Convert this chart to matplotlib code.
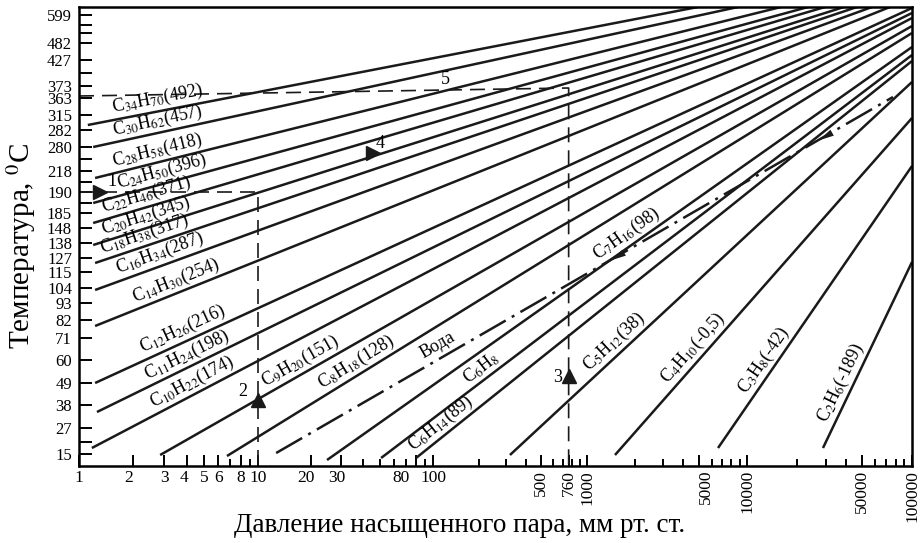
import matplotlib

matplotlib.use("Agg")
import matplotlib.pyplot as plt  # noqa: E402
import numpy as np  # noqa: E402
from matplotlib.markers import MarkerStyle  # noqa: E402
from matplotlib.path import Path  # noqa: E402
from matplotlib.transforms import offset_copy  # noqa: E402

plt.rcParams["font.family"] = ["Liberation Serif", "DejaVu Serif"]
plt.rcParams["mathtext.fontset"] = "stix"

# printed pressure scale: decade marks are not evenly spaced on the nomogram
X_DECADES = [0.1, 1, 10, 100, 1000, 10000, 100000, 1000000]
X_DECADE_POS = [-179, 0, 179, 354, 508, 668, 833, 998]

X_TICKS = [1, 2, 3, 4, 5, 6, 8, 10, 20, 30, 80, 100, 500, 760, 1000, 5000, 10000, 50000, 100000]
X_TICK_LABELS = ["1", "2", "3", "4", "5", "6", "8", "10", "20", "30", "80", "100",
                 "500", "760", "1000", "5000", "10000", "50000", "100000"]

# temperature scale (vertical position of each printed mark, scale units)
Y_TICK_POS = [12, 38, 61, 83, 106, 128, 146, 163, 178, 194, 208, 223, 238, 253,
              274, 295, 319, 336, 351, 368, 380, 406, 423, 451]
Y_TICK_LABELS = ["15", "27", "38", "49", "60", "71", "82", "93", "104", "115", "127", "138",
                 "148", "185", "190", "218", "280", "282", "315", "363", "373", "427", "482", "599"]
Y_MINOR = [24, 263, 284, 307, 393, 433, 441]

# substance lines: (pressure, scale position) at both ends
NAMES = ["C$_{34}$H$_{70}$(492)", "C$_{30}$H$_{62}$(457)", "C$_{28}$H$_{58}$(418)",
         "C$_{24}$H$_{50}$(396)", "C$_{22}$H$_{46}$(371)", "C$_{20}$H$_{42}$(345)",
         "C$_{18}$H$_{38}$(317)", "C$_{16}$H$_{34}$(287)", "C$_{14}$H$_{30}$(254)",
         "C$_{12}$H$_{26}$(216)", "C$_{11}$H$_{24}$(198)", "C$_{10}$H$_{22}$(174)",
         "C$_{9}$H$_{20}$(151)", "C$_{8}$H$_{18}$(128)", "C$_{7}$H$_{16}$(98)",
         "C$_{6}$H$_{8}$", "C$_{6}$H$_{14}$(89)", "C$_{5}$H$_{12}$(38)",
         "C$_{4}$H$_{10}$(-0,5)", "C$_{3}$H$_{8}$(-42)", "C$_{2}$H$_{6}$(-189)"]
P_START = [1.12, 1.20, 1.23, 1.20, 1.20, 1.20, 1.23, 1.23, 1.23, 1.23, 1.26, 1.18,
           2.84, 6.71, 24.8, 50.5, 80.0, 316, 1496, 6590, 28870]
Y_START = [341, 319, 288, 263, 243, 221, 203, 176, 140, 83, 54, 18,
           11, 10, 6, 8, 8, 11, 11, 18, 18]
P_END = [4940, 8790, 16070, 23440, 29700, 38700, 46400, 57250, 73560, 100000, 100000, 100000,
         100000, 100000, 100000, 100000, 100000, 100000, 100000, 100000, 100000]
Y_END = [459, 459, 459, 459, 459, 459, 459, 459, 459, 458, 453, 448,
         440, 433, 419, 411, 405, 384, 348, 300, 204]

WATER_P = [12.7, 76700]
WATER_Y = [13, 369]
WATER_ARROW_P = [1540, 29700]
WATER_ARROW_Y = [210, 330]

# label placement along each line (pressure at label centre)
LABEL_AT = [2.84, 2.84, 2.84, 3.02, 2.49, 2.49, 2.43, 2.98, 3.67, 4.06, 4.28, 4.62,
            18.8, 39.3, 1939, 227, 125, 1655, 5236, 14570, 43300]
# small horizontal nudges (pixels) of tick labels, as printed
X_LABEL_NUDGE = {"2": -4, "4": -3, "20": -5, "30": -5, "80": -15, "5000": 7}


def fwd(p):
    return np.interp(np.log10(np.clip(p, 1e-6, None)), np.log10(X_DECADES), X_DECADE_POS)


def inv(s):
    return 10 ** np.interp(s, X_DECADE_POS, np.log10(X_DECADES))


fig = plt.figure(figsize=(9.21, 5.43), dpi=100)
ax = fig.add_axes([79 / 921, 77 / 543, 833 / 921, 459 / 543])
ax.set_xscale("function", functions=(fwd, inv))
ax.set_xlim(1, 100000)
ax.set_ylim(0, 459)

for s in ax.spines.values():
    s.set_linewidth(1.8)

ax.set_xticks(X_TICKS)
ax.set_xticklabels([])
minor_x = [m * 10 ** d for d in range(5) for m in range(2, 10)]
ax.set_xticks(minor_x, minor=True)
ax.tick_params(axis="x", which="major", direction="in", length=8, width=1.4)
ax.tick_params(axis="x", which="minor", direction="in", length=5, width=1.4)
for val, lab in zip(X_TICKS, X_TICK_LABELS):
    tr = offset_copy(ax.get_xaxis_transform(), fig=fig, x=X_LABEL_NUDGE.get(lab, 0), y=-4,
                     units="dots")
    ax.text(val, 0, lab, transform=tr, ha="center", va="top", fontsize=12.5,
            rotation=90 if val >= 500 else 0)

ax.set_yticks(Y_TICK_POS)
ax.set_yticklabels(Y_TICK_LABELS, fontsize=12)
ax.set_yticks(Y_MINOR, minor=True)
ax.tick_params(axis="y", which="both", direction="in", length=9, width=1.4, pad=5)

fig.text(460 / 921, 1 - 526 / 543, "Давление насыщенного пара, мм рт. ст.", fontsize=19.5,
         ha="center", va="center")
fig.text(21 / 921, 1 - 246 / 543, "Температура, $^0$C", fontsize=21, rotation=90,
         ha="center", va="center")


def display_angle(p0, y0, p1, y1):
    d0 = ax.transData.transform((p0, y0))
    d1 = ax.transData.transform((p1, y1))
    return np.arctan2(d1[1] - d0[1], d1[0] - d0[0])


for p0, y0, p1, y1 in zip(P_START, Y_START, P_END, Y_END):
    ax.plot([p0, p1], [y0, y1], color="#1a1a1a", lw=1.8, solid_capstyle="butt")

ax.plot(WATER_P, WATER_Y, color="#1a1a1a", lw=1.8, dashes=(12, 2.8, 1.2, 2.8))
# slim arrowheads on the water line, pointing back down the line
head = Path([(1, 0), (-1, 0.45), (-1, -0.45), (1, 0)], closed=True)
w_ang = np.degrees(display_angle(WATER_P[0], WATER_Y[0], WATER_P[1], WATER_Y[1]))
head_marker = MarkerStyle(head).rotated(deg=w_ang + 180)
for p, y in zip(WATER_ARROW_P, WATER_ARROW_Y):
    ax.plot([p], [y], marker=head_marker, ms=11, color="#1a1a1a", markeredgewidth=0)

# worked example (dashed guides with arrows)
dash_kw = dict(color="#1a1a1a", lw=1.2, dashes=(9, 4.8))
ax.plot([1, 10, 10], [274, 274, 0], **dash_kw)
ax.plot([1, 760, 760], [370, 378, 0], **dash_kw)
ax.plot([1.31], [274], marker=">", ms=10, color="#1a1a1a")
ax.plot([10], [66], marker="^", ms=10, color="#1a1a1a")
ax.plot([760], [90], marker="^", ms=10, color="#1a1a1a")
ax.plot([45.4], [313], marker=">", ms=10, color="#1a1a1a")
for txt, p, y in [("1", 1.52, 284), ("2", 8.2, 74), ("3", 640, 88), ("4", 50, 323), ("5", 120, 386)]:
    ax.text(p, y, txt, fontsize=13, ha="center", va="center")


def put_label(text, p0, y0, p1, y1, at, dist=1.0):
    ang = display_angle(p0, y0, p1, y1)
    s0, s1, s = fwd(p0), fwd(p1), fwd(at)
    y = y0 + (s - s0) / (s1 - s0) * (y1 - y0)
    tr = offset_copy(ax.transData, fig=fig, x=-np.sin(ang) * dist, y=np.cos(ang) * dist, units="points")
    ax.text(at, y, text, transform=tr, rotation=np.degrees(ang), rotation_mode="anchor",
            ha="center", va="bottom", fontsize=13)


for name, p0, y0, p1, y1, at in zip(NAMES, P_START, Y_START, P_END, Y_END, LABEL_AT):
    put_label(name, p0, y0, p1, y1, at)
put_label("Вода", WATER_P[0], WATER_Y[0], WATER_P[1], WATER_Y[1], 118, dist=3)

fig.savefig("out.png", dpi=100)
